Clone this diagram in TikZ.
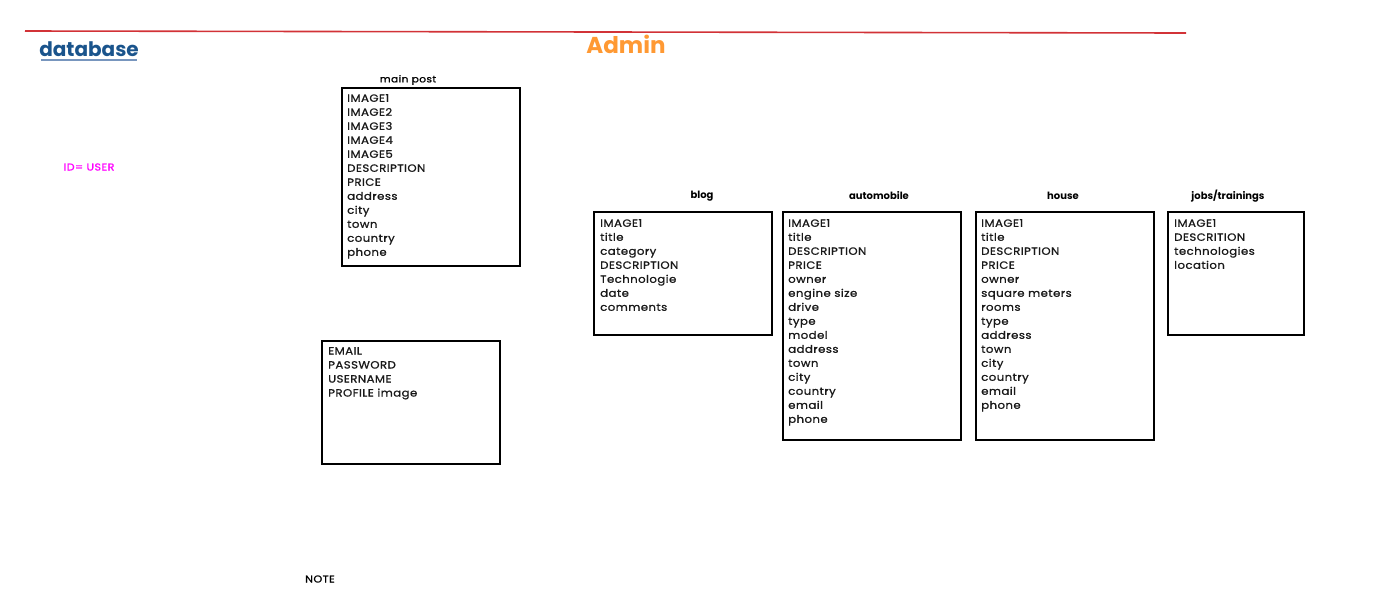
\documentclass[tikz,border=0pt]{standalone}
\usepackage{fontspec}
\setmainfont{Poppins}
\newfontfamily\rowfont{Poppins}[FakeBold=1,FakeStretch=1.12,LetterSpace=4]
\definecolor{dbblue}{RGB}{26,84,140}
\definecolor{dbline}{RGB}{120,150,190}
\definecolor{adminor}{RGB}{255,153,51}
\definecolor{idmag}{RGB}{255,0,255}
\definecolor{hdrred}{RGB}{210,50,55}
\begin{document}
\begin{tikzpicture}[x=1pt,y=-1pt,
  tbl/.style={draw=black,line width=1.6pt,rectangle,inner sep=0pt,anchor=north west},
  rows/.style={anchor=north west,inner sep=0pt,align=left,font=\rowfont\fontsize{10.5}{14}\selectfont,text=black!90},
  ttl/.style={font=\bfseries\fontsize{10}{11}\selectfont,inner sep=0pt}]
\useasboundingbox (0,0) rectangle (1386,590);
% header line
\draw[hdrred,line width=1.6pt] (25,31) -- (1186,33);
\node[font=\bfseries\fontsize{20}{22}\selectfont,text=dbblue,inner sep=0pt] (db) at (89,49) {database};
\draw[dbline,line width=1.6pt] (41,60) -- (137,60);
\node[font=\bfseries\fontsize{23}{25}\selectfont,text=adminor,inner sep=0pt] (admin) at (626,44) {Admin};
\node[font=\rowfont\fontsize{10}{12}\selectfont,text=idmag,inner sep=0pt] (id) at (89,167) {ID= USER};
\node[font=\rowfont\fontsize{10}{12}\selectfont,inner sep=0pt] (note) at (320,579) {NOTE};
% main post
\node[font=\rowfont\fontsize{9.5}{12}\selectfont,inner sep=0pt] (mpt) at (408,80) {main post};
\node[tbl,minimum width=178pt,minimum height=178pt] (mp) at (341,87) {};
\node[rows] (mpr) at (347,94) {IMAGE1\\IMAGE2\\IMAGE3\\IMAGE4\\IMAGE5\\DESCRIPTION\\PRICE\\address\\city\\town\\country\\phone};
% user
\node[tbl,minimum width=178pt,minimum height=123pt] (us) at (321,340) {};
\node[rows] (usr) at (328,347) {EMAIL\\PASSWORD\\USERNAME\\PROFILE image};
% blog
\node[ttl] (blt) at (702,196) {blog};
\node[tbl,minimum width=178pt,minimum height=123pt] (bl) at (593,211) {};
\node[rows] (blr) at (600,219) {IMAGE1\\title\\category\\DESCRIPTION\\Technologie\\date\\comments};
% automobile
\node[ttl] (aut) at (879,196) {automobile};
\node[tbl,minimum width=178pt,minimum height=228pt] (au) at (782,211) {};
\node[rows] (aur) at (788,219) {IMAGE1\\title\\DESCRIPTION\\PRICE\\owner\\engine size\\drive\\type\\model\\address\\town\\city\\country\\email\\phone};
% house
\node[ttl] (hot) at (1063,196) {house};
\node[tbl,minimum width=178pt,minimum height=228pt] (ho) at (975,211) {};
\node[rows] (hor) at (981,219) {IMAGE1\\title\\DESCRIPTION\\PRICE\\owner\\square meters\\rooms\\type\\address\\town\\city\\country\\email\\phone};
% jobs
\node[ttl] (jbt) at (1228,196) {jobs/trainings};
\node[tbl,minimum width=136pt,minimum height=123pt] (jb) at (1167,211) {};
\node[rows] (jbr) at (1174,219) {IMAGE1\\DESCRITION\\technologies\\location};
\end{tikzpicture}
\end{document}
